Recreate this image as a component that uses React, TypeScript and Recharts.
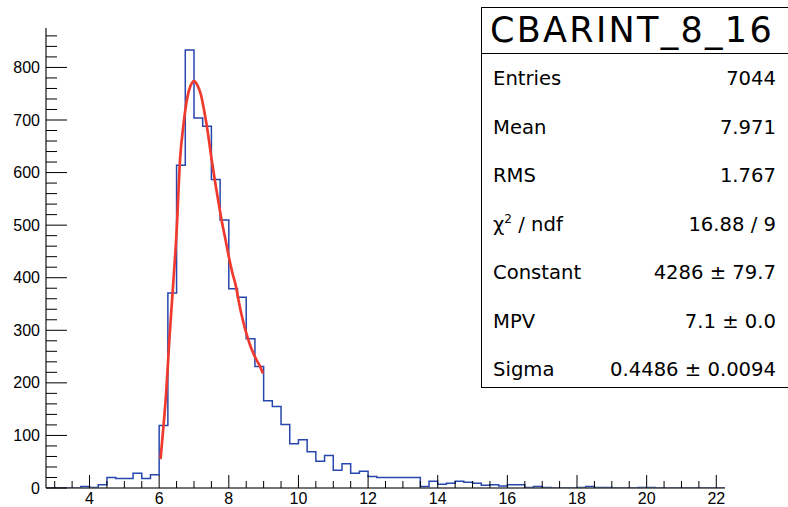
import { ComposedChart, Line, XAxis, YAxis } from "recharts";

// histogram: 0.25 wide bins starting at 2.75
const binStart = 2.75;
const binWidth = 0.25;
const counts = [
  0,
  0, 0, 0, 3,
  1, 6, 20, 18,
  18, 28, 18, 25,
  119, 371, 614, 833,
  704, 688, 587, 510,
  379, 363, 284, 231,
  166, 155, 121, 84,
  92, 69, 51, 62,
  34, 46, 28, 32,
  22, 20, 20, 20,
  20, 20, 3, 13,
  7, 9, 13, 11,
  9, 5, 6, 4,
  6, 6, 1, 3,
  1, 0, 0, 0,
  1, 3, 1, 1,
  0, 0, 0, 1,
  1, 0, 0, 0,
  0, 0, 0, 0,
  0,
];

// landau fit
const fitX = [6.04, 6.1, 6.2, 6.3, 6.4, 6.5, 6.6, 6.7, 6.8, 6.9, 7.0, 7.1, 7.2, 7.3, 7.4, 7.5, 7.6, 7.7, 7.8, 7.9, 8.0, 8.1, 8.2, 8.3, 8.4, 8.5, 8.6, 8.7, 8.8, 8.9, 8.98];
const fitY = [55, 100, 180, 290, 385, 487, 625, 692, 740, 765, 774, 766, 748, 715, 675, 628, 585, 545, 507, 474, 440, 410, 385, 350, 320, 295, 274, 257, 243, 231, 218];

const xMajor = [4, 6, 8, 10, 12, 14, 16, 18, 20, 22];
const yMajor = [0, 100, 200, 300, 400, 500, 600, 700, 800];

const histTitle = "CBARINT_8_16";
const statLabels = ["Entries", "Mean", "RMS", "chi2", "Constant", "MPV", "Sigma"];
const statValues = ["7044", "7.971", "1.767", "16.88 / 9", "4286 \u00b1 79.7", "7.1 \u00b1 0.0", "0.4486 \u00b1 0.0094"];

const histData = counts
  .map((c, i) => ({ x: binStart + i * binWidth, y: c }))
  .concat([{ x: binStart + counts.length * binWidth, y: 0 }]);
const fitData = fitX.map((x, i) => ({ x, y: fitY[i] }));

const xTicks: number[] = [];
for (let v = 3; v <= 22; v += 0.5) xTicks.push(v);
const yTicks: number[] = [];
for (let v = 0; v <= 860; v += 20) yTicks.push(v);

const labelFont = "'Liberation Sans', Arial, sans-serif";
const statFont = "'DejaVu Sans', sans-serif";

function XTick({ x, y, payload }: any) {
  const v = payload.value;
  const major = xMajor.includes(v);
  return (
    <g>
      <line x1={x} x2={x} y1={y} y2={y - (major ? 13 : 7)} stroke="#000" strokeWidth={1} />
      {major && (
        <text x={x} y={y + 15.5} textAnchor="middle" fontSize={16} fontFamily={labelFont} fill="#000">
          {v}
        </text>
      )}
    </g>
  );
}

function YTick({ x, y, payload }: any) {
  const v = payload.value;
  const major = yMajor.includes(v);
  return (
    <g>
      <line x1={x} x2={x + (major ? 21 : 11)} y1={y} y2={y} stroke="#000" strokeWidth={1} />
      {major && (
        <text x={x - 6} y={y + 5.5} textAnchor="end" fontSize={16} fontFamily={labelFont} fill="#000">
          {v}
        </text>
      )}
    </g>
  );
}

function StatsBox() {
  return (
    <div
      style={{
        position: "absolute",
        left: 481,
        top: 7,
        width: 330,
        height: 381,
        background: "#fff",
        border: "1.5px solid #000",
        boxSizing: "border-box",
        fontFamily: statFont,
        color: "#000",
      }}
    >
      <div
        style={{
          height: 46,
          borderBottom: "1.5px solid #000",
          boxSizing: "border-box",
          fontSize: 35,
          letterSpacing: 2.3,
          lineHeight: "44px",
          paddingLeft: 8,
          whiteSpace: "nowrap",
        }}
      >
        {histTitle}
      </div>
      {statLabels.map((lab, i) => (
        <div
          key={lab}
          style={{
            position: "absolute",
            left: 11,
            width: 283,
            top: 59 + i * 48.5,
            height: 24,
            lineHeight: "24px",
            fontSize: 19.6,
            display: "flex",
            justifyContent: "space-between",
            whiteSpace: "nowrap",
          }}
        >
          <span>
            {lab === "chi2" ? (
              <>
                {"\u03c7"}
                <span style={{ fontSize: 12, position: "relative", top: -8 }}>2</span>
                {" / ndf"}
              </>
            ) : (
              lab
            )}
          </span>
          <span>{statValues[i]}</span>
        </div>
      ))}
    </div>
  );
}

export default function App() {
  return (
    <div style={{ position: "absolute", left: 0, top: 0, width: 788, height: 507, background: "#fff" }}>
      <ComposedChart width={788} height={507} margin={{ top: 28, right: 63, left: 0, bottom: 0 }}>
        <XAxis
          xAxisId="bottom"
          dataKey="x"
          type="number"
          domain={[2.75, 22.25]}
          allowDataOverflow
          ticks={xTicks}
          interval={0}
          height={19}
          tickSize={0}
          tickMargin={0}
          tickLine={false}
          axisLine={{ stroke: "#444", strokeWidth: 1.5 }}
          tick={<XTick />}
        />
        <XAxis
          xAxisId="top"
          orientation="top"
          type="number"
          domain={[0, 1]}
          height={0}
          tick={false}
          tickLine={false}
          axisLine={{ stroke: "#444", strokeWidth: 1.5 }}
        />
        <YAxis
          yAxisId="left"
          type="number"
          domain={[0, 875]}
          allowDataOverflow
          ticks={yTicks}
          interval={0}
          width={46}
          tickSize={0}
          tickMargin={0}
          tickLine={false}
          axisLine={{ stroke: "#444", strokeWidth: 1.5 }}
          tick={<YTick />}
        />
        <YAxis
          yAxisId="right"
          orientation="right"
          type="number"
          domain={[0, 1]}
          width={0}
          tick={false}
          tickLine={false}
          axisLine={{ stroke: "#444", strokeWidth: 1.5 }}
        />
        <Line
          xAxisId="bottom"
          yAxisId="left"
          data={histData}
          dataKey="y"
          type="stepAfter"
          stroke="#2747ad"
          strokeWidth={1.5}
          dot={false}
          activeDot={false}
          isAnimationActive={false}
        />
        <Line
          xAxisId="bottom"
          yAxisId="left"
          data={fitData}
          dataKey="y"
          type="monotone"
          stroke="#f03a2e"
          strokeWidth={2.7}
          dot={false}
          activeDot={false}
          isAnimationActive={false}
        />
      </ComposedChart>
      <StatsBox />
    </div>
  );
}
